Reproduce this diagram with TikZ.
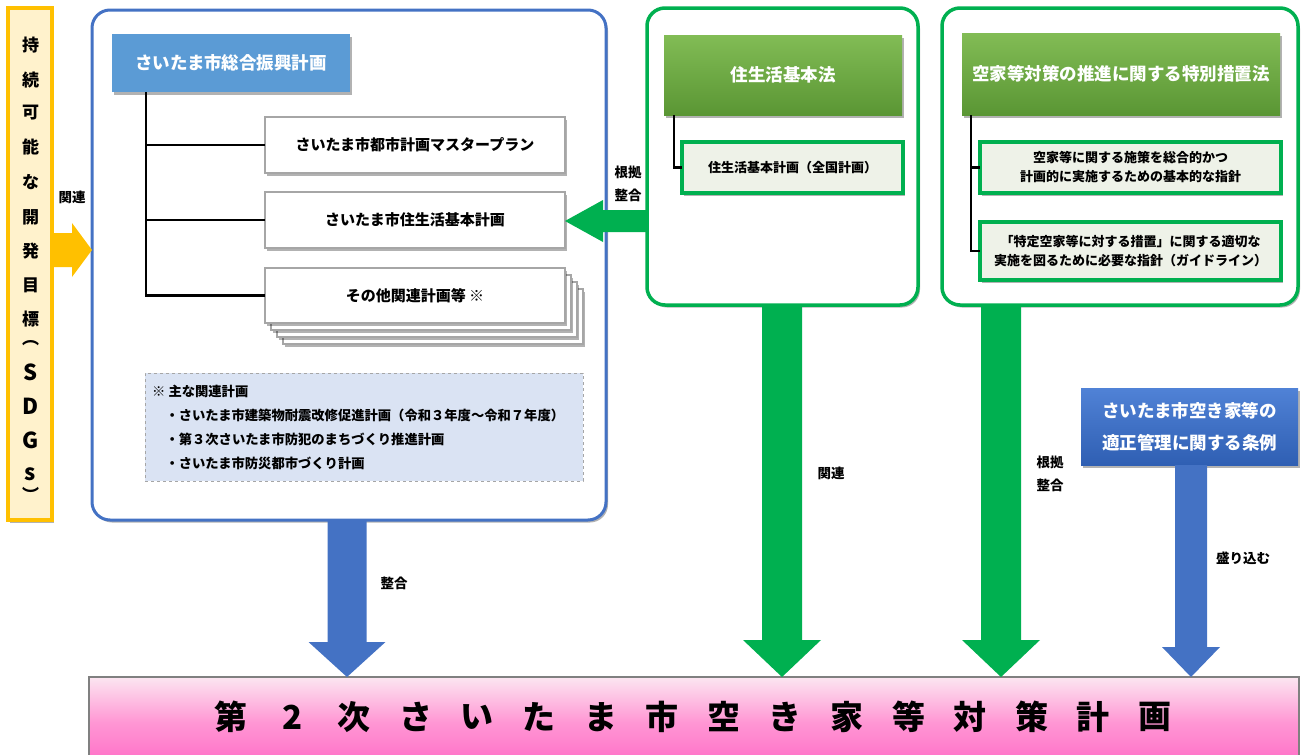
\documentclass[tikz,border=0pt]{standalone}
\usepackage{fontspec}
\setmainfont{Noto Sans CJK JP}
\usetikzlibrary{calc,shadows}
\definecolor{ybfill}{HTML}{FFF2CC}
\definecolor{ybdraw}{HTML}{FFC000}
\definecolor{mblue}{HTML}{4472C4}
\definecolor{hblue}{HTML}{5B9BD5}
\definecolor{ggreen}{HTML}{00B050}
\definecolor{gborder}{HTML}{A6A6A6}
\definecolor{dashfill}{HTML}{DAE3F3}
\definecolor{subfill}{HTML}{EEF2E8}
\definecolor{ghtop}{HTML}{82BC55}
\definecolor{ghbot}{HTML}{5A9634}
\definecolor{cbtop}{HTML}{5082D6}
\definecolor{cbbot}{HTML}{2F5FB3}
\definecolor{pktop}{HTML}{FCE6F1}
\definecolor{pkmid}{HTML}{FF97D4}
\definecolor{pkbot}{HTML}{FF6CC6}
\newcommand{\myfH}{\fontsize{17.5}{21}\selectfont\bfseries}
\newcommand{\myfM}{\fontsize{15}{18}\selectfont\bfseries}
\newcommand{\myfS}{\fontsize{13}{19}\selectfont\bfseries}
\newcommand{\myfL}{\fontsize{13.5}{23}\selectfont\bfseries}
\newcommand{\fatdown}[6]{%
  \fill[#1] ($(#2)+(-#4,0)$) -- ($(#2)+(#4,0)$) -- ($(#3)+(#4,-#6)$) -- ($(#3)+(#5,-#6)$) -- (#3)
    -- ($(#3)+(-#5,-#6)$) -- ($(#3)+(-#4,-#6)$) -- cycle;}
\newcommand{\fathoriz}[6]{%
  \fill[#1] ($(#2)+(0,-#4)$) -- ($(#3)+(#6,-#4)$) -- ($(#3)+(#6,-#5)$) -- (#3)
    -- ($(#3)+(#6,#5)$) -- ($(#3)+(#6,#4)$) -- ($(#2)+(0,#4)$) -- cycle;}
\begin{document}
\begin{tikzpicture}[x=1pt,y=-1pt,
  sz/.style 2 args={minimum width=#1pt, minimum height=#2pt, inner sep=0pt, outer sep=0pt, anchor=north west},
  shad/.style={drop shadow={shadow xshift=2pt, shadow yshift=-2.5pt, opacity=0.3, fill=black}},
  frame/.style={rounded corners=18pt, fill=white, line width=3pt, shad},
  gbox/.style={draw=gborder, line width=2.5pt, fill=white, font=\myfM, shad},
  ghdr/.style={top color=ghtop, bottom color=ghbot, text=white, font=\myfH, shad},
  gsub/.style={draw=ggreen, line width=4pt, fill=subfill, font=\myfS, align=center, shad},
  tree/.style={line width=2.5pt, black},
  lbl/.style={font=\myfL, align=center, inner sep=0pt},
  vch/.style={font=\fontsize{17}{17}\selectfont\bfseries, inner sep=0pt},
  vlat/.style={font=\fontsize{22}{22}\selectfont\bfseries, inner sep=0pt},
  tch/.style={font=\fontsize{33}{33}\selectfont\bfseries, inner sep=0pt}
]
\useasboundingbox (0,0) rectangle (1302,755);

% bottom title bar
\node[sz={1210}{90}, top color=pktop, bottom color=pkbot, middle color=pkmid, draw=black!50, line width=2.5pt] (title) at (89,677) {};
\foreach \c [count=\i from 0] in {第,2,次,さ,い,た,ま,市,空,き,家,等,対,策,計,画}
  \node[tch] (t\i) at ({231+61.6*\i},717) {\c};

% frames
\node[frame, draw=mblue, sz={514}{510}] (plan) at (92,10) {};
\node[frame, draw=ggreen, line width=3.5pt, sz={271}{297}] (g1) at (647,8) {};
\node[frame, draw=ggreen, line width=3.5pt, sz={356}{297}] (g2) at (942,8) {};

% SDGs bar
\node[sz={44}{512}, fill=ybfill, draw=ybdraw, line width=3.5pt, shad] (ybar) at (8,8) {};
\foreach \c/\yy [count=\i] in {持/45,続/80,可/113,能/147,な/182,開/217,発/251,目/285,標/319,︵/343}
  \node[vch] (v\i) at (30.5,\yy) {\c};
\foreach \c/\yy [count=\i from 11] in {S/372,D/406,G/440,s/474}
  \node[vlat] (v\i) at (30.5,\yy) {\c};
\node[vch] (v15) at (30.5,494) {︶};

% arrows
\coordinate (c1) at (347,0);
\coordinate (c2) at (782,0);
\coordinate (c3) at (1001,0);
\coordinate (c4) at (1191,0);
\coordinate (c5) at (0,221);
\coordinate (c6) at (0,250);
\fatdown{mblue}{plan.south -| c1}{title.north -| c1}{19.5}{38.5}{35}
\fatdown{ggreen}{g1.south -| c2}{title.north -| c2}{20}{39}{37}
\fatdown{ggreen}{g2.south -| c3}{title.north -| c3}{20}{39}{37}
\fathoriz{ybdraw}{ybar.east |- c6}{plan.west |- c6}{17}{27}{-20}

% condition box and arrow
\node[sz={217}{77}, top color=cbtop, bottom color=cbbot, text=white, font=\fontsize{17.5}{32}\selectfont\bfseries, align=center, shad] (cond) at (1081,388) {さいたま市空き家等の\\適正管理に関する条例};
\fatdown{mblue}{cond.south -| c4}{title.north -| c4}{16}{29}{30}

% plan contents
\node[sz={238}{58}, fill=hblue, text=white, font=\myfH, shad] (hdr) at (112,34) {さいたま市総合振興計画};
\node[gbox, sz={300}{56}] (b1) at (265,117) {さいたま市都市計画マスタープラン};
\node[gbox, sz={300}{56}] (b2) at (265,192) {さいたま市住生活基本計画};
\node[gbox, sz={300}{55}] (b3c) at (283,289) {};
\node[gbox, sz={300}{55}] (b3b) at (277,282) {};
\node[gbox, sz={300}{55}] (b3a) at (271,275) {};
\node[gbox, sz={300}{55}] (b3) at (265,268) {その他関連計画等 ※};
\coordinate (tx) at (146,0);
\draw[tree] (hdr.south -| tx) -- (b3.west -| tx) -- (b3.west);
\draw[tree] (b1.west -| tx) -- (b1.west);
\draw[tree] (b2.west -| tx) -- (b2.west);

\node[sz={438}{108}, fill=dashfill, draw=gborder, dashed, line width=0.8pt] (note) at (145,373) {};
\node[anchor=north west, align=left, inner sep=0pt, font=\fontsize{13.3}{24}\selectfont\bfseries] (notetext) at (152,385)
  {※ 主な関連計画\\
   \hspace*{1em}・さいたま市建築物耐震改修促進計画（令和３年度～令和７年度）\\
   \hspace*{1em}・第３次さいたま市防犯のまちづくり推進計画\\
   \hspace*{1em}・さいたま市防災都市づくり計画};

% green box 1
\node[ghdr, sz={238}{80}] (g1h) at (664,35) {住生活基本法};
\node[gsub, sz={221}{51}] (g1s) at (682,142) {住生活基本計画（全国計画）};
\coordinate (t1) at (674,0);
\draw[tree] (g1h.south -| t1) -- (g1s.west -| t1) -- (g1s.west);

% green box 2
\node[ghdr, sz={318}{82}] (g2h) at (962,33) {空家等対策の推進に関する特別措置法};
\node[gsub, sz={301}{51}] (g2a) at (980,142) {空家等に関する施策を総合的かつ\\計画的に実施するための基本的な指針};
\node[gsub, sz={301}{58}] (g2b) at (980,222) {「特定空家等に対する措置」に関する適切な\\実施を図るために必要な指針（ガイドライン）};
\coordinate (t2) at (971,0);
\draw[tree] (g2h.south -| t2) -- (g2b.west -| t2) -- (g2b.west);
\draw[tree] (g2a.west -| t2) -- (g2a.west);

% green horizontal arrow
\fathoriz{ggreen}{g1.west |- c5}{b2.east |- c5}{11}{21}{38}

% labels
\node[lbl] (l1) at (72,197) {関連};
\node[lbl] (l2) at (628,184) {根拠\\整合};
\node[lbl] (l3) at (394,583) {整合};
\node[lbl] (l4) at (831,473) {関連};
\node[lbl] (l5) at (1050,474) {根拠\\整合};
\node[lbl] (l6) at (1243,558) {盛り込む};
\end{tikzpicture}
\end{document}
